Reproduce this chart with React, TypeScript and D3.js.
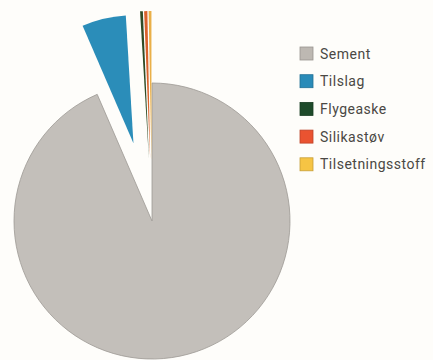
import React from "react";
import * as d3 from "d3";

const categories = ["Sement", "Tilslag", "Flygeaske", "Silikastøv", "Tilsetningsstoff"];
const values = [93.5, 5.55, 0.3, 0.35, 0.3];
const colors = ["#c3bfba", "#2b8db9", "#2f4a24", "#d9612c", "#eab048"];
const legendColors = ["#bdb8b2", "#2a8bb8", "#1e4a2a", "#ea5331", "#f6c444"];
const explode = [0, 80, 62, 62, 62];
const radii = [138, 128, 148, 148, 148];

export default function App() {
  const W = 433, H = 360;
  const cx = 152, cy = 221;
  const data = categories.map((c, i) => ({ c, v: values[i], i }));
  const pie = d3.pie<any>().sort(null).value((d) => d.v).startAngle(0).endAngle(2 * Math.PI);
  const arcs = pie(data);
  return (
    <svg width={W} height={H} style={{ position: "absolute", left: 0, top: 0, background: "#fefdfa" }}>
      <g transform={`translate(${cx},${cy})`}>
        {arcs.map((a, k) => {
          const i = a.data.i;
          const mid = (a.startAngle + a.endAngle) / 2;
          const dx = Math.sin(mid) * explode[i];
          const dy = -Math.cos(mid) * explode[i];
          const path = d3.arc<any>().innerRadius(0).outerRadius(radii[i])(a) || "";
          return (
            <path
              key={k}
              d={path}
              transform={`translate(${dx},${dy})`}
              fill={colors[i]}
              stroke={i === 0 ? "#9d9994" : "none"}
              strokeWidth={i === 0 ? 0.8 : 0}
            />
          );
        })}
      </g>
      <g transform="translate(300,47)" fontFamily="Roboto, 'Open Sans', sans-serif" fontSize={14} letterSpacing={0.5} fill="#4a4844">
        {categories.map((c, i) => (
          <g key={c} transform={`translate(0,${i * 27.7})`}>
            <rect x={0} y={0} width={13} height={13} fill={legendColors[i]} stroke={d3.color(legendColors[i])!.darker(0.6).toString()} strokeWidth={0.8} />
            <text x={20} y={11.5}>{c}</text>
          </g>
        ))}
      </g>
    </svg>
  );
}
